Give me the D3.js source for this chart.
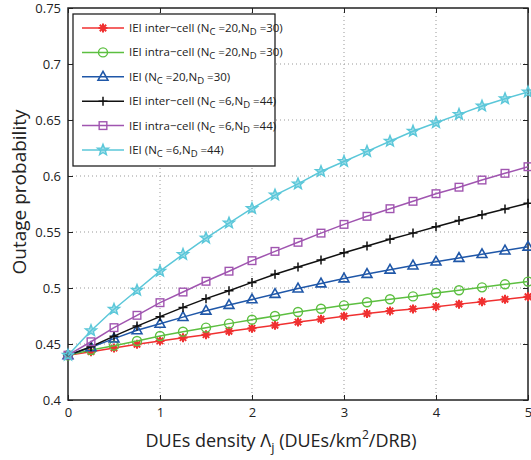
<!DOCTYPE html>
<html>
<head>
<meta charset="utf-8">
<script src="https://cdn.jsdelivr.net/npm/d3@7"></script>
<style>
  body { margin: 0; background: #fff; }
  svg text { font-family: "Open Sans", "Noto Sans", sans-serif; fill: #222; }
</style>
</head>
<body>
<div id="chart"></div>
<script>
// x values (DUEs density)
var xVals = [0, 0.25, 0.5, 0.75, 1, 1.25, 1.5, 1.75, 2, 2.25, 2.5, 2.75, 3, 3.25, 3.5, 3.75, 4, 4.25, 4.5, 4.75, 5];

// series values
var interC20 = [0.44, 0.4431, 0.4464, 0.4497, 0.4527, 0.4556, 0.4583, 0.4613, 0.464, 0.4667, 0.4696, 0.4722, 0.4748, 0.4772, 0.4795, 0.4813, 0.4833, 0.4856, 0.4878, 0.4899, 0.4922];
var intraC20 = [0.44, 0.4446, 0.4485, 0.4527, 0.4571, 0.461, 0.4646, 0.4682, 0.4717, 0.475, 0.4786, 0.4815, 0.4845, 0.4873, 0.49, 0.4925, 0.4955, 0.498, 0.5006, 0.5033, 0.5057];
var ieiC20 = [0.44, 0.447, 0.4548, 0.4622, 0.468, 0.474, 0.4797, 0.4848, 0.4898, 0.4946, 0.4995, 0.504, 0.5085, 0.5125, 0.5163, 0.52, 0.5235, 0.5268, 0.5302, 0.5334, 0.5368];
var interC6 = [0.44, 0.4476, 0.457, 0.466, 0.4744, 0.4827, 0.4905, 0.4976, 0.505, 0.5122, 0.5188, 0.525, 0.5315, 0.5375, 0.5435, 0.549, 0.5547, 0.5602, 0.5654, 0.5705, 0.5756];
var intraC6 = [0.44, 0.452, 0.4646, 0.4756, 0.4869, 0.4964, 0.506, 0.515, 0.5244, 0.5327, 0.5408, 0.549, 0.5568, 0.564, 0.5708, 0.5774, 0.5842, 0.59, 0.5964, 0.6024, 0.6083];
var ieiC6 = [0.44, 0.4619, 0.481, 0.498, 0.515, 0.53, 0.5446, 0.558, 0.571, 0.583, 0.593, 0.604, 0.613, 0.622, 0.631, 0.64, 0.6476, 0.655, 0.6625, 0.669, 0.675];

var xTicks = [0, 1, 2, 3, 4, 5];
var yTicks = [0.4, 0.45, 0.5, 0.55, 0.6, 0.65, 0.7, 0.75];

var seriesList = [
  { name: "IEI inter\u2212cell", nc: "20", nd: "30", values: interC20, color: "#f03030", marker: "asterisk" },
  { name: "IEI intra\u2212cell", nc: "20", nd: "30", values: intraC20, color: "#5cbf40", marker: "circle" },
  { name: "IEI", nc: "20", nd: "30", values: ieiC20, color: "#1f57a8", marker: "triangle" },
  { name: "IEI inter\u2212cell", nc: "6", nd: "44", values: interC6, color: "#111111", marker: "plus" },
  { name: "IEI intra\u2212cell", nc: "6", nd: "44", values: intraC6, color: "#a055b0", marker: "square" },
  { name: "IEI", nc: "6", nd: "44", values: ieiC6, color: "#5bc7d9", marker: "star" }
];

var width = 531, height = 460;
var plotL = 68, plotR = 528, plotT = 8, plotB = 400;

var svg = d3.select("#chart").append("svg")
  .attr("width", width)
  .attr("height", height);

var xScale = d3.scaleLinear().domain([0, 5]).range([plotL, plotR]);
var yScale = d3.scaleLinear().domain([0.4, 0.75]).range([plotB, plotT]);

// grid lines
var grid = svg.append("g").attr("class", "grid");
grid.selectAll("line.gx").data(xTicks.slice(1, -1)).enter().append("line")
  .attr("x1", function (d) { return xScale(d); })
  .attr("x2", function (d) { return xScale(d); })
  .attr("y1", plotT).attr("y2", plotB)
  .attr("stroke", "#999").attr("stroke-width", 1).attr("stroke-dasharray", "1,3");
grid.selectAll("line.gy").data(yTicks.slice(1, -1)).enter().append("line")
  .attr("y1", function (d) { return yScale(d); })
  .attr("y2", function (d) { return yScale(d); })
  .attr("x1", plotL).attr("x2", plotR)
  .attr("stroke", "#999").attr("stroke-width", 1).attr("stroke-dasharray", "1,3");

// axes with inward ticks
var xAxis = d3.axisBottom(xScale).tickValues(xTicks).tickSizeInner(-5).tickSizeOuter(0).tickPadding(8).tickFormat(d3.format("d"));
var yAxis = d3.axisLeft(yScale).tickValues(yTicks).tickSizeInner(-5).tickSizeOuter(0).tickPadding(7).tickFormat(function (d) { return String(+d.toFixed(2)); });
var xTop = d3.axisTop(xScale).tickValues(xTicks).tickSizeInner(-5).tickSizeOuter(0).tickFormat("");
var yRight = d3.axisRight(yScale).tickValues(yTicks).tickSizeInner(-5).tickSizeOuter(0).tickFormat("");

function styleAxis(g) {
  g.select(".domain").remove();
  g.selectAll(".tick line").attr("stroke", "#222");
  g.selectAll(".tick text").style("font-size", "13px").attr("fill", "#222");
}

svg.append("g").attr("transform", "translate(0," + plotB + ")").call(xAxis).call(styleAxis);
svg.append("g").attr("transform", "translate(" + plotL + ",0)").call(yAxis).call(styleAxis);
svg.append("g").attr("transform", "translate(0," + plotT + ")").call(xTop).call(styleAxis);
svg.append("g").attr("transform", "translate(" + plotR + ",0)").call(yRight).call(styleAxis);

// frame
svg.append("rect")
  .attr("x", plotL).attr("y", plotT)
  .attr("width", plotR - plotL).attr("height", plotB - plotT)
  .attr("fill", "none").attr("stroke", "#222").attr("stroke-width", 1.5);

// marker drawing
function drawMarker(g, type, color, size) {
  var s = size;
  if (type === "circle") {
    g.append("circle").attr("r", s).attr("fill", "none").attr("stroke", color).attr("stroke-width", 1.4);
  } else if (type === "square") {
    g.append("rect").attr("x", -s * 0.85).attr("y", -s * 0.85).attr("width", s * 1.7).attr("height", s * 1.7)
      .attr("fill", "none").attr("stroke", color).attr("stroke-width", 1.4);
  } else if (type === "triangle") {
    g.append("path").attr("d", "M0," + (-s * 1.2) + "L" + (s * 1.1) + "," + (s * 0.75) + "L" + (-s * 1.1) + "," + (s * 0.75) + "Z")
      .attr("fill", "none").attr("stroke", color).attr("stroke-width", 1.6);
  } else if (type === "plus") {
    g.append("path").attr("d", "M" + (-s) + ",0H" + s + "M0," + (-s) + "V" + s)
      .attr("stroke", color).attr("stroke-width", 1.5);
  } else if (type === "asterisk") {
    var p = "";
    for (var i = 0; i < 4; i++) {
      var a = i * Math.PI / 4;
      p += "M" + (-s * Math.cos(a)) + "," + (-s * Math.sin(a)) + "L" + (s * Math.cos(a)) + "," + (s * Math.sin(a));
    }
    g.append("path").attr("d", p).attr("stroke", color).attr("stroke-width", 2);
  } else if (type === "star") {
    var pts = [];
    for (var k = 0; k < 10; k++) {
      var r = k % 2 === 0 ? s * 1.3 : s * 0.55;
      var ang = -Math.PI / 2 + k * Math.PI / 5;
      pts.push([r * Math.cos(ang), r * Math.sin(ang)]);
    }
    g.append("path").attr("d", "M" + pts.join("L") + "Z")
      .attr("fill", color).attr("fill-opacity", 0.55).attr("stroke", color).attr("stroke-width", 1.4);
  }
}

var line = d3.line()
  .x(function (d) { return xScale(d[0]); })
  .y(function (d) { return yScale(d[1]); });

seriesList.forEach(function (s) {
  var pts = xVals.map(function (x, i) { return [x, s.values[i]]; });
  svg.append("path").datum(pts)
    .attr("d", line)
    .attr("fill", "none")
    .attr("stroke", s.color)
    .attr("stroke-width", 1.5);
  svg.selectAll(null).data(pts).enter().append("g")
    .attr("transform", function (d) { return "translate(" + xScale(d[0]) + "," + yScale(d[1]) + ")"; })
    .each(function () { drawMarker(d3.select(this), s.marker, s.color, 4.5); });
});

// legend
var legend = svg.append("g");
legend.append("rect")
  .attr("x", 73).attr("y", 14).attr("width", 202).attr("height", 152)
  .attr("fill", "#fff").attr("stroke", "#222").attr("stroke-width", 1.3);

seriesList.forEach(function (s, i) {
  var y = 28 + i * 24.4;
  legend.append("line").attr("x1", 82).attr("x2", 124).attr("y1", y).attr("y2", y)
    .attr("stroke", s.color).attr("stroke-width", 1.5);
  var m = legend.append("g").attr("transform", "translate(103," + y + ")");
  drawMarker(m, s.marker, s.color, 4.5);
  var t = legend.append("text").attr("x", 129).attr("y", y + 4).style("font-size", "11.5px");
  t.append("tspan").text(s.name + " (N");
  t.append("tspan").attr("dy", 3).style("font-size", "9.5px").text("C");
  t.append("tspan").attr("dy", -3).text("  =" + s.nc + ",N");
  t.append("tspan").attr("dy", 3).style("font-size", "9.5px").text("D");
  t.append("tspan").attr("dy", -3).text(" =" + s.nd + ")");
});

// axis titles
var xt = svg.append("text")
  .attr("x", 281).attr("y", 447)
  .attr("text-anchor", "middle")
  .style("font-size", "18px");
xt.append("tspan").text("DUEs density \u039B");
xt.append("tspan").attr("dy", 5).style("font-size", "13px").text("j");
xt.append("tspan").attr("dy", -5).text(" (DUEs/km");
xt.append("tspan").attr("dy", -8).style("font-size", "12px").text("2");
xt.append("tspan").attr("dy", 8).text("/DRB)");

svg.append("text")
  .attr("transform", "translate(26,192) rotate(-90)")
  .attr("text-anchor", "middle")
  .style("font-size", "19px")
  .text("Outage probability");
</script>
</body>
</html>
